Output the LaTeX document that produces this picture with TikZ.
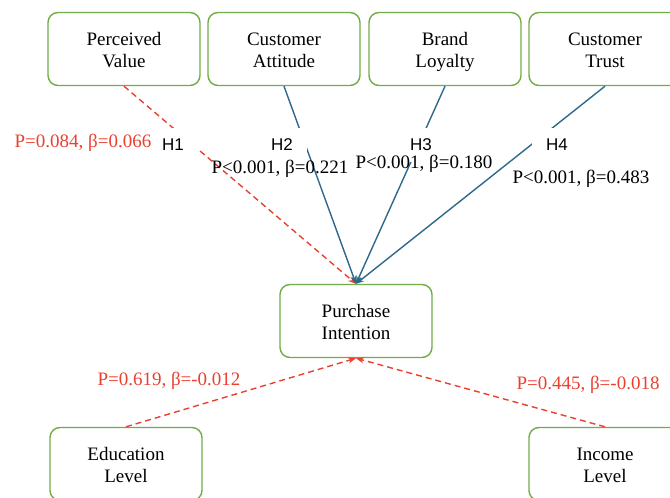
\documentclass[tikz,border=0pt]{standalone}
\usepackage{fontspec}
\setmainfont{Liberation Serif}
\newfontfamily\hfont{Liberation Sans}
\usetikzlibrary{arrows.meta}
\definecolor{boxgreen}{RGB}{112,173,71}
\definecolor{sigblue}{RGB}{46,104,140}
\definecolor{nsred}{RGB}{234,64,48}

\begin{document}
\begin{tikzpicture}[x=1pt, y=-1pt,
		box/.style={draw=boxgreen, line width=1.4pt, rounded corners=10pt, fill=white,
			minimum width=152pt, minimum height=73pt, align=center,
			font=\fontsize{19}{22}\selectfont, text height=36pt, text depth=0pt},
		hlab/.style={fill=white, minimum width=50pt, minimum height=34pt, inner sep=0pt,
			font=\hfont\fontsize{17}{20}\selectfont},
		plab/.style={inner sep=0pt, font=\fontsize{19}{22}\selectfont},
		sig/.style={draw=sigblue, line width=1.4pt, -{Stealth[length=8pt, width=6pt]}},
		nonsig/.style={draw=nsred, line width=1.4pt, dash pattern=on 6pt off 4pt,
			-{Stealth[length=8pt, width=6pt]}}]
			\clip (0,0) rectangle (670,498);
			% Nodes
			\node[box] (pv) at (124,49) {Perceived\\Value};
			\node[box] (ca) at (284,49) {Customer\\Attitude};
			\node[box] (bl) at (445,49) {Brand\\Loyalty};
			\node[box] (ct) at (605,49) {Customer\\Trust};
			\node[box] (pi) at (356,321) {Purchase\\Intention};
			\node[box] (el) at (126,464) {Education\\Level};
			\node[box] (il) at (605,464) {Income\\Level};
			% Paths
			\draw[nonsig] (pv.south) -- (pi.north);
			\draw[sig] (ca.south) -- (pi.north);
			\draw[sig] (bl.south) -- (pi.north);
			\draw[sig] (ct.south) -- (pi.north);
			\draw[nonsig] (el.north) -- (pi.south);
			\draw[nonsig] (il.north) -- (pi.south);
			% Hypotheses
			\node[hlab] (h1) at (173,145) {H1};
			\node[hlab] (h2) at (282,145) {H2};
			\node[hlab] (h3) at (421,145) {H3};
			\node[hlab] (h4) at (557,145) {H4};
			% Coefficients
			\node[plab, text=nsred] (p1) at (83,143) {P=0.084, β=0.066};
			\node[plab] (p2) at (280,169) {P<0.001, β=0.221};
			\node[plab] (p3) at (424,164) {P<0.001, β=0.180};
			\node[plab] (p4) at (581,179) {P<0.001, β=0.483};
			\node[plab, text=nsred] (p5) at (169,381) {P=0.619, β=-0.012};
			\node[plab, text=nsred] (p6) at (588,385) {P=0.445, β=-0.018};
		\end{tikzpicture}
\end{document}
